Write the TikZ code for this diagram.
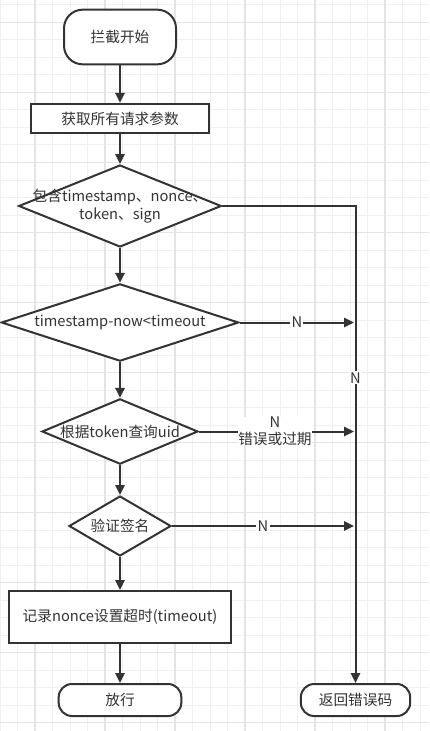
\documentclass[tikz,border=0pt]{standalone}
\usepackage{fontspec}
\setmainfont{Noto Sans CJK SC}
\usetikzlibrary{shapes.geometric,arrows.meta}

\begin{document}
\begin{tikzpicture}[x=0.75pt,y=-0.75pt,
  every node/.style={font=\fontsize{11}{13}\selectfont, text=colText},
  linea/.style={draw=colLine, line width=1.5pt},
  freccia/.style={linea, -{Triangle[length=7.5pt,width=7pt]}},
  terminale/.style={linea, rounded corners=13pt, fill=white},
  processo/.style={linea, rectangle, fill=white},
  decisione/.style={linea, diamond, fill=white, inner sep=0pt},
  etichetta/.style={fill=white, inner sep=1pt, align=center}]

% Colori
\definecolor{colLine}{HTML}{333333}
\definecolor{colText}{HTML}{333333}
\definecolor{gridLight}{HTML}{F0F0F0}
\definecolor{gridDark}{HTML}{E4E4E4}

% Sfondo e griglia
\useasboundingbox (0,0) rectangle (429,731);
\fill[white] (0,0) rectangle (429,731);
\foreach \gx in {0,17.5,...,429} \draw[gridLight, line width=0.75pt] (\gx,0) -- (\gx,731);
\foreach \gy in {5,22.5,...,731} \draw[gridLight, line width=0.75pt] (0,\gy) -- (429,\gy);
\foreach \gx in {35,105,...,429} \draw[gridDark, line width=0.9pt] (\gx,0) -- (\gx,731);
\foreach \gy in {22.5,92.5,...,731} \draw[gridDark, line width=0.9pt] (0,\gy) -- (429,\gy);

% Blocchi
\node[terminale, rounded corners=14pt, minimum width=84pt, minimum height=41pt] (inizio) at (120,37) {拦截开始};
\node[processo, minimum width=134pt, minimum height=22pt] (param) at (120,118.5) {获取所有请求参数};
\node[decisione, minimum width=152pt, minimum height=61.5pt,
  label={[align=center, text=colText]center:包含timestamp、nonce、\\token、sign}] (dec1) at (120,206) {};
\node[decisione, minimum width=178pt, minimum height=58pt,
  label={[text=colText]center:timestamp-now<timeout}] (dec2) at (120,322.5) {};
\node[decisione, minimum width=117pt, minimum height=49pt,
  label={[text=colText]center:根据token查询uid}] (dec3) at (120,431.5) {};
\node[decisione, minimum width=76.5pt, minimum height=45pt,
  label={[text=colText]center:验证签名}] (dec4) at (120,526) {};
\node[processo, minimum width=166pt, minimum height=39pt] (nonce) at (120,617) {记录nonce设置超时(timeout)};
\node[terminale, rounded corners=10pt, minimum width=92pt, minimum height=24pt] (passa) at (120,700) {放行};
\node[terminale, rounded corners=10pt, minimum width=82pt, minimum height=24pt] (errore) at (355.5,700) {返回错误码};

% Punti sulla linea di destra
\coordinate (ang) at (355.5,206);
\coordinate (j2) at (354,322.5);
\coordinate (j3) at (354,431.5);
\coordinate (j4) at (354,526);

% Flusso principale
\draw[freccia] (inizio) -- (param);
\draw[freccia] (param) -- (dec1);
\draw[freccia] (dec1) -- (dec2);
\draw[freccia] (dec2) -- (dec3);
\draw[freccia] (dec3) -- (dec4);
\draw[freccia] (dec4) -- (nonce);
\draw[freccia] (nonce) -- (passa);

% Rami negativi
\draw[freccia] (dec1.east) -- (ang) -- node[etichetta, pos=0.36] {N} (errore.north);
\draw[freccia] (dec2.east) -- node[etichetta, pos=0.5] {N} (j2);
\draw[freccia] (dec3.east) -- node[etichetta, inner sep=0pt, pos=0.49] {N\\错误或过期} (j3);
\draw[freccia] (dec4.east) -- node[etichetta, pos=0.5] {N} (j4);

\end{tikzpicture}
\end{document}
